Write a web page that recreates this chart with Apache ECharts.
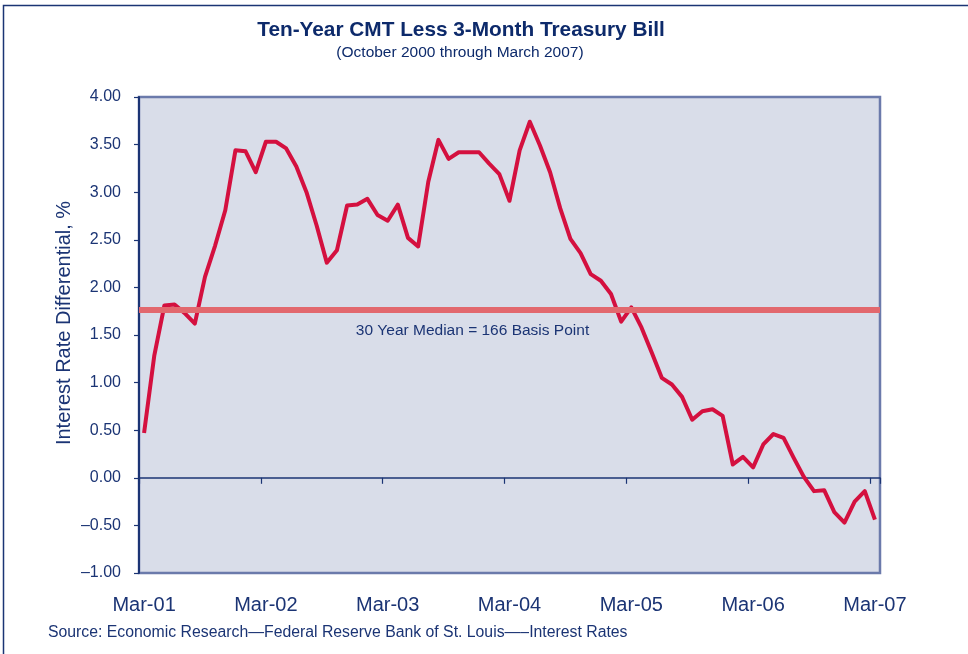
<!DOCTYPE html>
<html>
<head>
<meta charset="utf-8">
<script src="https://cdn.jsdelivr.net/npm/echarts@6/dist/echarts.min.js"></script>
<style>
html,body{margin:0;padding:0;background:#fff;}
#chart{width:968px;height:654px;}
</style>
</head>
<body>
<div id="chart"></div>
<script>
// Monthly categories, Mar-01 .. Mar-07
const monthNames = ['Jan','Feb','Mar','Apr','May','Jun','Jul','Aug','Sep','Oct','Nov','Dec'];
const categories = [];
for (let k = 0; k < 73; k++) {
  const m = (2 + k) % 12;
  const y = 1 + Math.floor((2 + k) / 12);
  categories.push(monthNames[m] + '-' + String(y).padStart(2, '0'));
}
// Ten-year CMT less 3-month T-bill, %
const spread = [
  0.47, 1.28, 1.81, 1.82, 1.73, 1.62, 2.11, 2.44, 2.81, 3.44,
  3.43, 3.21, 3.53, 3.53, 3.46, 3.27, 3.00, 2.65, 2.26, 2.39,
  2.86, 2.87, 2.93, 2.76, 2.70, 2.87, 2.52, 2.43, 3.11, 3.55,
  3.35, 3.42, 3.42, 3.42, 3.30, 3.19, 2.91, 3.44, 3.74, 3.49,
  3.21, 2.83, 2.51, 2.36, 2.14, 2.07, 1.93, 1.64, 1.79, 1.58,
  1.32, 1.05, 0.98, 0.85, 0.61, 0.70, 0.72, 0.65, 0.14, 0.22,
  0.11, 0.35, 0.46, 0.42, 0.21, 0.01, -0.14, -0.13, -0.36, -0.47,
  -0.25, -0.14, -0.44
];
const medianValue = 1.76;
const medianLabel = '30 Year Median = 166 Basis Point';
const yTicks = {min: -1, max: 4, interval: 0.5};

const navy = '#1b3474';
const font = '"Liberation Sans", Arial, sans-serif';

const chart = echarts.init(document.getElementById('chart'), null, {renderer: 'canvas'});
chart.setOption({
  animation: false,
  backgroundColor: '#ffffff',
  graphic: [
    {type: 'rect', silent: true, z: -10,
     shape: {x: 3.5, y: 5.5, width: 1000, height: 700},
     style: {fill: 'none', stroke: navy, lineWidth: 1.5}},
    {type: 'text', x: 461, y: 30,
     style: {text: 'Ten-Year CMT Less 3-Month Treasury Bill', fill: '#0d2a6b',
             font: 'bold 20.8px ' + font, textAlign: 'center', textVerticalAlign: 'middle'}},
    {type: 'text', x: 460, y: 53,
     style: {text: '(October 2000 through March 2007)', fill: '#0d2a6b',
             font: '15.5px ' + font, textAlign: 'center', textVerticalAlign: 'middle'}},
    {type: 'text', x: 64, y: 323, rotation: Math.PI / 2,
     style: {text: 'Interest Rate Differential, %', fill: navy,
             font: '20px ' + font, textAlign: 'center', textVerticalAlign: 'middle'}},
    {type: 'text', x: 48, y: 633,
     style: {text: 'Source: Economic Research\u2014Federal Reserve Bank of St. Louis\u2014\u2013Interest Rates', fill: navy,
             font: '15.8px ' + font, textAlign: 'left', textVerticalAlign: 'middle'}}
  ],
  grid: {
    left: 139, right: 88, top: 97, bottom: 81,
    show: true, backgroundColor: '#d9dde9', borderColor: '#6b7aab', borderWidth: 2.5
  },
  xAxis: [
    {
      type: 'category', data: categories, boundaryGap: true, position: 'bottom',
      axisLine: {onZero: true, lineStyle: {color: navy, width: 1.5}},
      axisTick: {show: true, interval: 11, length: 6, lineStyle: {color: navy, width: 1.2}},
      axisLabel: {show: false},
      splitLine: {show: false}
    },
    {
      type: 'category', data: categories, boundaryGap: true, position: 'bottom',
      axisLine: {show: false, onZero: false},
      axisTick: {show: false},
      axisLabel: {show: true, interval: 11, margin: 22, color: navy, fontSize: 20, fontFamily: font},
      splitLine: {show: false}
    }
  ],
  yAxis: {
    type: 'value', min: yTicks.min, max: yTicks.max, interval: yTicks.interval,
    axisLine: {show: true, lineStyle: {color: navy, width: 2}},
    axisTick: {show: true, length: 5, lineStyle: {color: navy, width: 1.2}},
    axisLabel: {
      margin: 18, color: navy, fontSize: 16, fontFamily: font,
      formatter: v => (v < 0 ? '\u2013' + Math.abs(v).toFixed(2) : v.toFixed(2))
    },
    splitLine: {show: false}
  },
  series: [
    {
      type: 'line', xAxisIndex: 0, data: [], z: 1,
      markLine: {
        silent: true, symbol: ['none', 'none'],
        lineStyle: {color: '#e2686e', width: 6, type: 'solid'},
        label: {show: true, formatter: medianLabel, position: 'insideMiddleBottom',
                color: navy, fontSize: 15.5, fontFamily: font, offset: [-37, 7]},
        data: [{yAxis: medianValue}]
      }
    },
    {
      type: 'line', xAxisIndex: 0, data: spread, z: 3,
      symbol: 'none', smooth: false,
      lineStyle: {color: '#d4103f', width: 4, join: 'round'}
    }
  ]
});
</script>
</body>
</html>
